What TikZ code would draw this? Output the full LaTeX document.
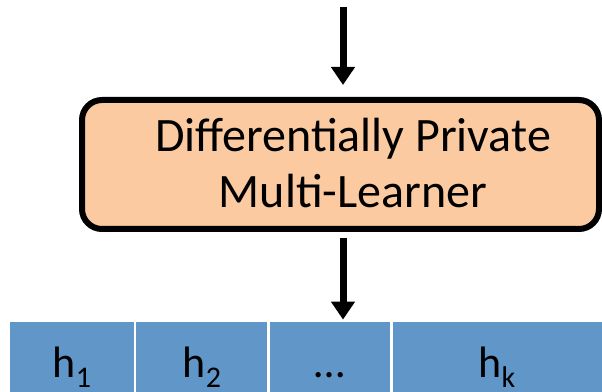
\documentclass[tikz,border=0pt]{standalone}
\usepackage{fontspec}
\setmainfont{Carlito}
\usetikzlibrary{arrows.meta}

\definecolor{learnerfill}{RGB}{251,202,160}
\definecolor{cellfill}{RGB}{97,150,201}

\tikzset{
  flowarrow/.style={line width=7pt,-{Triangle[width=23pt,length=18pt]}},
  learnerbox/.style={draw=black,line width=6pt,fill=learnerfill,rounded corners=20pt,
    minimum width=517pt,minimum height=129pt,inner sep=0pt},
  learnertext/.style={align=center,font=\fontsize{48}{56}\selectfont,inner sep=0pt},
  cell/.style={fill=cellfill,inner sep=0pt,anchor=south west},
  celltext/.style={anchor=base,font=\fontsize{44}{44}\selectfont,inner sep=0pt},
}
\newcommand{\cellsub}[1]{\raisebox{-10pt}{\fontsize{30}{30}\selectfont #1}}

\begin{document}
\begin{tikzpicture}[x=1pt,y=1pt]
  \useasboundingbox (0,0) rectangle (602,391);
  \begin{scope}
    \clip (0,0) rectangle (602,391);

    % output hypotheses
    \node[cell,minimum width=124pt,minimum height=90pt] (h1) at (10,-21) {};
    \node[cell,minimum width=131pt,minimum height=90pt] (h2) at (136,-21) {};
    \node[cell,minimum width=120pt,minimum height=90pt] (hdots) at (270,-21) {};
    \node[cell,minimum width=215pt,minimum height=90pt] (hk) at (393,-21) {};
    \node[celltext] (h1t) at (72,14) {h\cellsub{1}};
    \node[celltext] (h2t) at (202,14) {h\cellsub{2}};
    \node[celltext] (hdotst) at (330,14) {…};
    \node[celltext] (hkt) at (497,14) {h\cellsub{k}};
  \end{scope}

  % the learner
  \node[learnerbox] (learner) at (340.5,226.5) {};
  \node[learnertext,anchor=base] (learnerlabel) at (353,183) {Differentially Private\\Multi-Learner};

  % data flow
  \coordinate (input) at (343,384);
  \draw[flowarrow,shorten >=12pt] (input) -- (input |- learner.north);
  \draw[flowarrow,shorten <=6pt,shorten >=2pt] (input |- learner.south) -- (input |- hdots.north);
\end{tikzpicture}
\end{document}
